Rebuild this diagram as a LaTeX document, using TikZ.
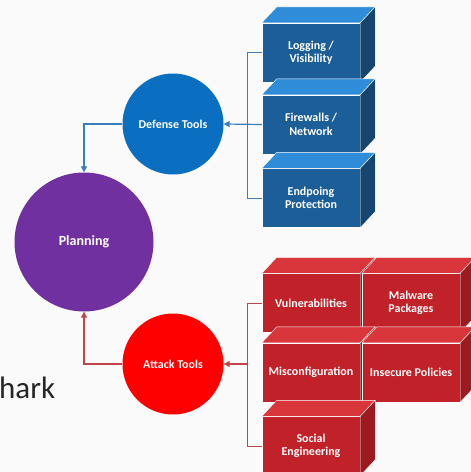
\documentclass[tikz,border=0pt]{standalone}
\usepackage{fontspec}
\setmainfont{Carlito}
\usetikzlibrary{arrows.meta,positioning,calc}

\definecolor{bluefront}{HTML}{1C5E98}
\definecolor{bluetop}{HTML}{2E8CD8}
\definecolor{blueside}{HTML}{16466F}
\definecolor{bluecircle}{HTML}{0A6FC0}
\definecolor{blueline}{HTML}{3A7DBA}
\definecolor{redfront}{HTML}{C1222A}
\definecolor{redtop}{HTML}{D9363C}
\definecolor{redside}{HTML}{9C1A20}
\definecolor{redcircle}{HTML}{FF0000}
\definecolor{redline}{HTML}{C0454A}
\definecolor{purplecircle}{HTML}{7030A0}

% top and right faces of a box
\newcommand{\boxfaces}[3]{%
  \fill[#2, draw=white!60, line width=0.4pt] (#1.north west) -- ++(15,-16) -- ([shift={(15,-16)}]#1.north east) -- (#1.north east) -- cycle;
  \fill[#3, draw=white!60, line width=0.4pt] (#1.north east) -- ++(15,-16) -- ([shift={(15,-16)}]#1.south east) -- (#1.south east) -- cycle;
}

\begin{document}
\begin{tikzpicture}[
    x=1pt, y=-1pt,
    tool/.style={circle, fill=#1, text=white, minimum size=101pt, inner sep=0pt, font=\fontsize{12}{14}\selectfont\bfseries},
    blockbox/.style={rectangle, fill=#1, draw=white!60, line width=0.4pt, text=white, minimum width=98pt, minimum height=59pt, inner sep=0pt, align=center, font=\fontsize{12}{13.5}\selectfont\bfseries},
    link/.style={line width=1.2pt, -{Triangle[length=6pt,width=6pt]}},
    bracket/.style={line width=0.9pt}
]
    \useasboundingbox[fill=gray!4] (0,0) rectangle (471,472);

    % left over slide text
    \node[anchor=base west, inner sep=0pt, text=black!85, font=\fontsize{31}{31}\selectfont] (slidetext) at (-1,398) {hark};

    % circles
    \node[tool=purplecircle, minimum size=139pt, font=\fontsize{14}{16}\selectfont\bfseries] (planning) at (84,242) {Planning};
    \node[tool=bluecircle] (defense) at (173,124) {Defense Tools};
    \node[tool=redcircle] (attack) at (173,364) {Attack Tools};

    % defense blocks
    \node[blockbox=bluefront] (logging) at (311,52.5) {Logging /\\Visibility};
    \boxfaces{logging}{bluetop}{blueside}
    \node[blockbox=bluefront] (firewalls) at (311,124.5) {Firewalls /\\Network};
    \boxfaces{firewalls}{bluetop}{blueside}
    \node[blockbox=bluefront] (endpoint) at (311,198) {Endpoing\\Protection};
    \boxfaces{endpoint}{bluetop}{blueside}

    % attack blocks
    \node[blockbox=redfront] (vuln) at (311,303) {Vulnerabilities};
    \boxfaces{vuln}{redtop}{redside}
    \node[blockbox=redfront] (malware) at (411,303) {Malware\\Packages};
    \boxfaces{malware}{redtop}{redside}
    \node[blockbox=redfront] (misconf) at (311,372.5) {Misconfiguration};
    \boxfaces{misconf}{redtop}{redside}
    \node[blockbox=redfront] (policies) at (411,372.5) {Insecure Policies};
    \boxfaces{policies}{redtop}{redside}
    \node[blockbox=redfront] (social) at (311,446) {Social\\Engineering};
    \boxfaces{social}{redtop}{redside}

    % brackets
    \draw[bracket, blueline] (logging.west) -- ++(-14,0) |- (endpoint.west);
    \draw[bracket, redline] (vuln.west) -- ++(-14,0) coordinate (redjoin) |- (social.west);

    % arrows
    \draw[link, blueline] (firewalls.west) -- (defense.east);
    \draw[link, redline] (redjoin |- attack.east) -- (attack.east);
    \draw[link, blueline] (defense.west) -| (planning.north);
    \draw[link, redline] (attack.west) -| (planning.south);
\end{tikzpicture}
\end{document}
